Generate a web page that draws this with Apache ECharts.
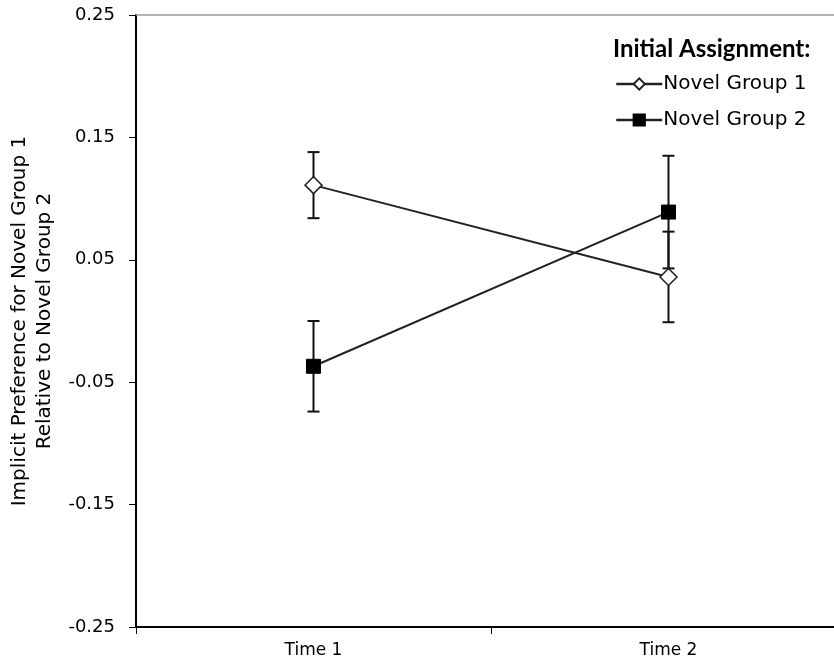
<!DOCTYPE html>
<html>
<head>
<meta charset="utf-8">
<script src="https://cdn.jsdelivr.net/npm/echarts@6/dist/echarts.min.js"></script>
<style>html,body{margin:0;padding:0;background:#fff;overflow:hidden}#c{width:834px;height:664px}</style>
</head>
<body>
<div id="c"></div>
<script>
const categories = ['Time 1', 'Time 2'];
const group1Means = [0.111, 0.036];
const group1Errors = [0.027, 0.037];
const group2Means = [-0.037, 0.089];
const group2Errors = [0.037, 0.046];
const yTicks = [-0.25, -0.15, -0.05, 0.05, 0.15, 0.25];
const legendTitle = 'Initial Assignment:';
const seriesNames = ['Novel Group 1', 'Novel Group 2'];
const yTitle = 'Implicit Preference for Novel Group 1\nRelative to Novel Group 2';

function errData(means, errs) {
  return means.map((m, i) => [i, m - errs[i], m + errs[i]]);
}
function errRender(params, api) {
  const x = api.value(0);
  const lo = api.coord([x, api.value(1)]);
  const hi = api.coord([x, api.value(2)]);
  const w = 6;
  const st = { stroke: '#111', lineWidth: 2 };
  return {
    type: 'group',
    children: [
      { type: 'line', shape: { x1: lo[0], y1: lo[1], x2: hi[0], y2: hi[1] }, style: st },
      { type: 'line', shape: { x1: lo[0] - w, y1: lo[1], x2: lo[0] + w, y2: lo[1] }, style: st },
      { type: 'line', shape: { x1: hi[0] - w, y1: hi[1], x2: hi[0] + w, y2: hi[1] }, style: st }
    ]
  };
}

const chart = echarts.init(document.getElementById('c'), null, { renderer: 'canvas' });
chart.setOption({
  backgroundColor: '#fff',
  animation: false,
  title: {
    text: legendTitle,
    left: 608, top: 32,
    textStyle: { fontFamily: 'Lato', fontWeight: 'bold', fontSize: 24, color: '#000' }
  },
  legend: {
    orient: 'vertical',
    left: 610, top: 69,
    itemWidth: 46, itemHeight: 14, itemGap: 16,
    data: seriesNames,
    lineStyle: { width: 2.5 },
    textStyle: { fontFamily: 'DejaVu Sans', fontSize: 20, color: '#000', padding: [0, 0, 0, -4] }
  },
  grid: {
    left: 136, top: 15, width: 710, height: 612,
    outerBoundsMode: 'none', containLabel: false,
    show: false
  },
  xAxis: [
    {
      type: 'category',
      data: categories,
      boundaryGap: true,
      axisLine: { onZero: false, lineStyle: { color: '#000', width: 2 } },
      axisTick: { show: true, length: 7, lineStyle: { color: '#000', width: 1 } },
      axisLabel: { margin: 15, fontFamily: 'DejaVu Sans', fontSize: 17, color: '#000' }
    },
    {
      type: 'category',
      position: 'top',
      data: categories,
      axisLine: { show: true, onZero: false, lineStyle: { color: '#999', width: 1.5 } },
      axisTick: { show: false },
      axisLabel: { show: false }
    }
  ],
  yAxis: {
    type: 'value',
    min: yTicks[0], max: yTicks[yTicks.length - 1], interval: 0.1,
    name: yTitle,
    nameLocation: 'middle',
    nameRotate: 90,
    nameGap: 67,
    nameTextStyle: { fontFamily: 'DejaVu Sans', fontSize: 20, color: '#000', lineHeight: 25 },
    axisLine: { show: true, lineStyle: { color: '#000', width: 2 } },
    axisTick: { show: true, length: 7, lineStyle: { color: '#000', width: 1 } },
    splitLine: { show: false },
    axisLabel: {
      margin: 21, fontFamily: 'DejaVu Sans', fontSize: 18, color: '#000',
      formatter: v => (Math.round(v * 100) / 100).toFixed(2)
    }
  },
  series: [
    {
      name: seriesNames[0], type: 'line', data: group1Means,
      symbol: 'diamond', symbolSize: 17,
      lineStyle: { color: '#222', width: 2 },
      itemStyle: { color: '#fff', borderColor: '#222', borderWidth: 1.5 },
      z: 3
    },
    {
      name: seriesNames[1], type: 'line', data: group2Means,
      symbol: 'rect', symbolSize: 14,
      lineStyle: { color: '#222', width: 2 },
      itemStyle: { color: '#000', borderColor: '#000', borderWidth: 1 },
      z: 3
    },
    { type: 'custom', renderItem: errRender, data: errData(group1Means, group1Errors), z: 2, silent: true },
    { type: 'custom', renderItem: errRender, data: errData(group2Means, group2Errors), z: 2, silent: true }
  ]
});
</script>
</body>
</html>
